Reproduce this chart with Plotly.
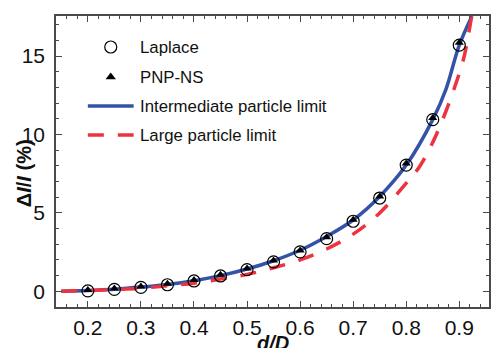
import plotly.graph_objects as go

# ---- data ----
x_pts = [0.2, 0.25, 0.3, 0.35, 0.4, 0.45, 0.5, 0.55, 0.6, 0.65, 0.7, 0.75, 0.8, 0.85, 0.9]
laplace = [0.03, 0.12, 0.25, 0.42, 0.66, 0.98, 1.38, 1.88, 2.52, 3.36, 4.47, 5.95, 8.05, 10.95, 15.7]
pnpns = [0.08, 0.18, 0.31, 0.49, 0.73, 1.05, 1.45, 1.96, 2.6, 3.45, 4.57, 6.05, 8.15, 11.05, 15.85]

x_inter = [0.15, 0.2, 0.25, 0.3, 0.35, 0.4, 0.45, 0.5, 0.55, 0.6, 0.65, 0.7, 0.75, 0.8, 0.85, 0.875, 0.9, 0.924]
y_inter = [0.01, 0.06, 0.14, 0.27, 0.44, 0.68, 1.0, 1.42, 1.95, 2.62, 3.5, 4.55, 6.05, 8.05, 10.95, 12.9, 15.7, 17.56]

x_large = [0.15, 0.2, 0.25, 0.3, 0.35, 0.4, 0.45, 0.5, 0.55, 0.6, 0.65, 0.7, 0.75, 0.8, 0.825, 0.85, 0.875, 0.9, 0.91, 0.923]
y_large = [0.0, 0.05, 0.12, 0.2, 0.35, 0.52, 0.78, 1.08, 1.5, 2.0, 2.7, 3.65, 5.0, 6.9, 7.95, 9.5, 11.5, 13.9, 15.1, 17.5]

legend_labels = ["Laplace", "PNP-NS", "Intermediate particle limit", "Large particle limit"]

BLUE = "#3553a6"
RED = "#ee3340"
AX = "#4a4a4a"
FONT = "Liberation Sans, Arial, sans-serif"

fig = go.Figure()
fig.add_trace(go.Scatter(x=x_inter, y=y_inter, mode="lines", line=dict(color=BLUE, width=3.5, shape="spline"), showlegend=False))
fig.add_trace(go.Scatter(x=x_large, y=y_large, mode="lines", line=dict(color=RED, width=3.5, dash="16px,14px", shape="spline"), showlegend=False))
fig.add_trace(go.Scatter(x=x_pts, y=laplace, mode="markers",
                         marker=dict(symbol="circle-open", size=12, color="black", line=dict(width=1.2)), showlegend=False))
fig.add_trace(go.Scatter(x=x_pts, y=pnpns, mode="markers",
                         marker=dict(symbol="triangle-up", size=8, color="black"), showlegend=False))

# ---- custom legend on a pixel-like overlay axis ----
lx_mark = 111
rows = [47, 77, 106, 135]
fig.add_trace(go.Scatter(x=[lx_mark], y=[rows[0]], mode="markers", xaxis="x2", yaxis="y2",
                         marker=dict(symbol="circle-open", size=12, color="black", line=dict(width=1.2)), showlegend=False))
fig.add_trace(go.Scatter(x=[lx_mark], y=[rows[1]], mode="markers", xaxis="x2", yaxis="y2",
                         marker=dict(symbol="triangle-up", size=9, color="black"), showlegend=False))
fig.add_trace(go.Scatter(x=[88, 134], y=[rows[2], rows[2]], mode="lines", xaxis="x2", yaxis="y2",
                         line=dict(color=BLUE, width=3.5), showlegend=False))
fig.add_trace(go.Scatter(x=[88, 134], y=[rows[3], rows[3]], mode="lines", xaxis="x2", yaxis="y2",
                         line=dict(color=RED, width=3.5, dash="16px,14px"), showlegend=False))

annotations = []
for lab, r in zip(legend_labels, rows):
    annotations.append(dict(x=138, y=r, xref="x2", yref="y2", text=lab, showarrow=False,
                            xanchor="left", yanchor="middle", font=dict(size=16.8, color="#111", family=FONT)))
annotations.append(dict(x=0.5, y=0, xref="paper", yref="paper", yanchor="top", yshift=-23,
                        text="<b><i>d/D</i></b>", showarrow=False, font=dict(size=20, color="#111", family=FONT)))
annotations.append(dict(x=0, y=0.46, xref="paper", yref="paper", xanchor="center", xshift=-32,
                        text="<b>Δ<i>I</i>/<i>I</i> (%)</b>", textangle=-90, showarrow=False,
                        font=dict(size=20, color="#111", family=FONT)))

fig.update_layout(
    width=493, height=348,
    margin=dict(l=56, r=2, t=16, b=41),
    paper_bgcolor="white", plot_bgcolor="white",
    font=dict(family=FONT, color="#111"),
    annotations=annotations,
    xaxis=dict(range=[0.14, 0.956], tickvals=[0.2, 0.3, 0.4, 0.5, 0.6, 0.7, 0.8, 0.9],
               ticktext=["0.2", "0.3", "0.4", "0.5", "0.6", "0.7", "0.8", "0.9"],
               ticks="inside", ticklen=6, tickwidth=1.2, tickcolor=AX,
               minor=dict(dtick=0.02, tick0=0.0, ticks="inside", ticklen=3.5, tickwidth=1.2, tickcolor=AX),
               showline=True, linecolor=AX, linewidth=1.5, mirror="allticks",
               showgrid=False, zeroline=False, tickfont=dict(size=21, family=FONT, color="#111"),
               ticklabelstandoff=1),
    yaxis=dict(range=[-1, 17.56], tickvals=[0, 5, 10, 15],
               ticks="inside", ticklen=6, tickwidth=1.2, tickcolor=AX,
               minor=dict(dtick=1, tick0=0, ticks="inside", ticklen=3.5, tickwidth=1.2, tickcolor=AX),
               showline=True, linecolor=AX, linewidth=1.5, mirror="allticks",
               showgrid=False, zeroline=False, tickfont=dict(size=21, family=FONT, color="#111"),
               ticklabelstandoff=5),
    xaxis2=dict(overlaying="x", range=[56, 491], visible=False, fixedrange=True),
    yaxis2=dict(overlaying="y", range=[307, 16], visible=False, fixedrange=True),
)

fig.write_html("out.html")
